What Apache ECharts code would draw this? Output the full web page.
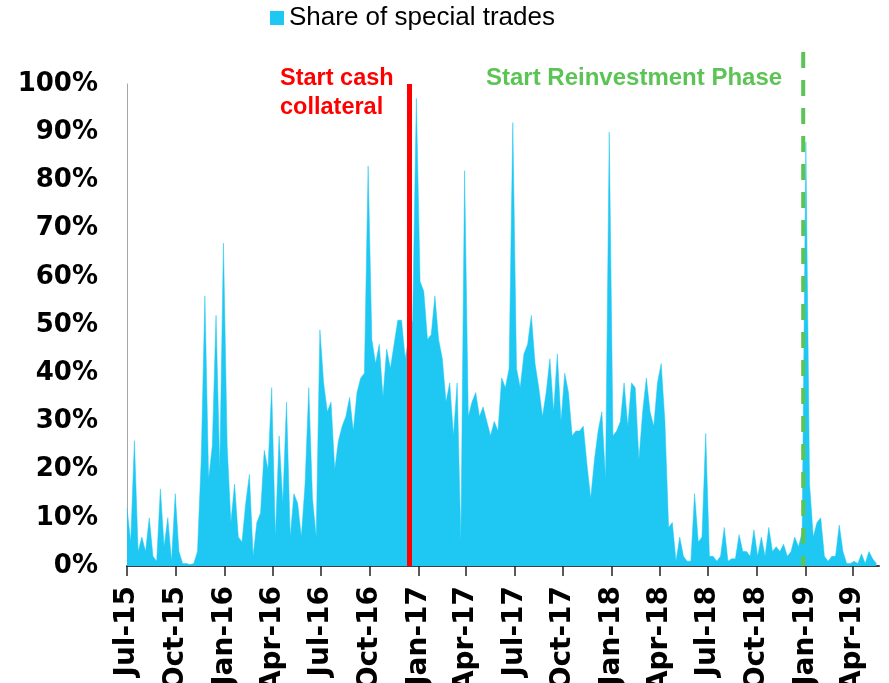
<!DOCTYPE html>
<html>
<head>
<meta charset="utf-8">
<title>Share of special trades</title>
<script src="https://cdn.jsdelivr.net/npm/echarts@6/dist/echarts.min.js"></script>
<style>
  html, body { margin: 0; padding: 0; background: #fff; }
  #chart { width: 889px; height: 683px; }
</style>
</head>
<body>
<div id="chart"></div>
<script>
// weekly observations, first one on startDate
var startDate = '2015-07-01';
var stepDays = 7;
var shares = [
  12, 5, 26, 3, 6, 3, 10, 2, 1, 16,
  4, 10, 1, 15, 3, 0.5, 0.5, 0.3, 0.5, 3,
  22, 56, 18, 25, 52, 20, 67, 25, 9, 17,
  6, 5, 13, 19, 2, 9, 11, 24, 20, 37,
  6, 27, 13, 34, 6, 15, 13, 6, 17, 37,
  14, 6, 49, 38, 32, 34, 20, 26, 29, 31,
  35, 28, 36, 39, 40, 83, 47, 42, 46, 35,
  45, 41, 46, 51, 51, 43, 48, 51, 97, 59,
  57, 47, 48, 56, 47, 43, 34, 38, 27, 38,
  5, 82, 31, 34, 36, 31, 33, 30, 27, 30,
  28, 39, 37, 41, 92, 41, 37, 44, 46, 52,
  42, 37, 31, 36, 43, 32, 44, 30, 40, 36,
  27, 28, 28, 29, 21, 14, 22, 28, 32, 18,
  90, 27, 28, 30, 38, 29, 38, 37, 22, 32,
  39, 32, 29, 38, 42, 30, 8, 9, 1, 6,
  2, 1, 1, 15, 5, 6, 27.5, 2, 2, 1,
  2, 8, 1, 1.5, 1.5, 6.5, 3, 3, 2, 7.5,
  2, 6, 2, 8, 3, 4, 3, 4.5, 2, 3,
  6, 4, 7, 88, 17, 6, 9, 10, 2, 1,
  2, 2, 8.5, 3, 0.5, 0.5, 1, 0.5, 2.5, 0.5,
  3, 1.5, 0.5
];
var quarterTicks = [
  '2015-07-01', '2015-10-01', '2016-01-01', '2016-04-01',
  '2016-07-01', '2016-10-01', '2017-01-01', '2017-04-01',
  '2017-07-01', '2017-10-01', '2018-01-01', '2018-04-01',
  '2018-07-01', '2018-10-01', '2019-01-01', '2019-04-01'
];
var monthNames = ['Jan', 'Feb', 'Mar', 'Apr', 'May', 'Jun', 'Jul', 'Aug', 'Sep', 'Oct', 'Nov', 'Dec'];
var axisStart = '2015-07-01';
var axisEnd = '2019-05-20';
var cashCollateralDate = '2016-12-14';
var reinvestDate = '2018-12-28';
var seriesName = 'Share of special trades';

var FONT = '"Liberation Sans", Arial, sans-serif';
var AXIS_FONT = '"DejaVu Sans", "Liberation Sans", sans-serif';
var DAY = 24 * 3600 * 1000;

var t0 = Date.parse(startDate);
var points = shares.map(function (v, i) {
  return [t0 + i * stepDays * DAY, v];
});
var tickStamps = quarterTicks.map(function (d) { return Date.parse(d); });

var chart = echarts.init(document.getElementById('chart'));

var option = {
  animation: false,
  backgroundColor: '#fff',
  grid: { left: 127, right: 10, top: 84, bottom: 117, outerBoundsMode: 'none', containLabel: false },
  legend: {
    data: [seriesName],
    left: 270, top: 5, padding: 0,
    icon: 'rect', itemWidth: 14, itemHeight: 14,
    textStyle: { fontSize: 26, color: '#000', fontFamily: FONT }
  },
  xAxis: {
    // timestamps on a plain value axis so the quarter ticks can be pinned
    type: 'value',
    min: Date.parse(axisStart),
    max: Date.parse(axisEnd),
    axisLine: { lineStyle: { color: '#404040', width: 2 } },
    axisTick: {
      show: true, length: 10,
      customValues: tickStamps,
      lineStyle: { color: '#222', width: 1.5 }
    },
    axisLabel: {
      rotate: 90, margin: 20,
      fontSize: 28, fontWeight: 'bold', color: '#000', fontFamily: AXIS_FONT,
      customValues: tickStamps,
      formatter: function (val) {
        var d = new Date(val);
        return monthNames[d.getUTCMonth()] + '-' + String(d.getUTCFullYear()).slice(2);
      }
    },
    splitLine: { show: false }
  },
  yAxis: {
    type: 'value', min: 0, max: 100, interval: 10,
    axisLine: { show: true, lineStyle: { color: '#a6a6a6', width: 1 } },
    axisTick: { show: false },
    splitLine: { show: false },
    axisLabel: {
      formatter: '{value}%', margin: 29, padding: [7, 0, 0, 0],
      fontSize: 26, fontWeight: 'bold', color: '#000', fontFamily: AXIS_FONT
    }
  },
  series: [{
    name: seriesName,
    type: 'line',
    data: points,
    showSymbol: false,
    symbol: 'none',
    itemStyle: { color: '#1fc8f2' },
    lineStyle: { width: 0.5, color: '#1fc8f2' },
    areaStyle: { color: '#1fc8f2', opacity: 1 },
    markLine: {
      silent: true,
      symbol: 'none',
      label: { show: false },
      lineStyle: { color: '#ff0000', width: 5, type: 'solid' },
      data: [{ xAxis: Date.parse(cashCollateralDate) }]
    }
  }],
  graphic: [
    {
      type: 'text', left: 280, top: 64, z: 10,
      style: {
        text: 'Start cash\ncollateral', fill: '#ff0000',
        font: 'bold 23.5px ' + FONT, lineHeight: 29
      }
    },
    {
      type: 'text', left: 486, top: 64, z: 10,
      style: {
        text: 'Start Reinvestment Phase', fill: '#5cc454',
        font: 'bold 24px ' + FONT, lineHeight: 29
      }
    }
  ]
};
chart.setOption(option);

// reinvestment marker rises above the plot area, so draw it from the axis scale
var gx = chart.convertToPixel({ xAxisIndex: 0 }, Date.parse(reinvestDate));
var gBottom = chart.convertToPixel({ yAxisIndex: 0 }, 0);
chart.setOption({
  graphic: option.graphic.concat([{
    type: 'line', z: 20,
    shape: { x1: gx, y1: 52, x2: gx, y2: gBottom },
    style: { stroke: '#5cc454', lineWidth: 4, lineDash: [16, 12] }
  }])
});
</script>
</body>
</html>
